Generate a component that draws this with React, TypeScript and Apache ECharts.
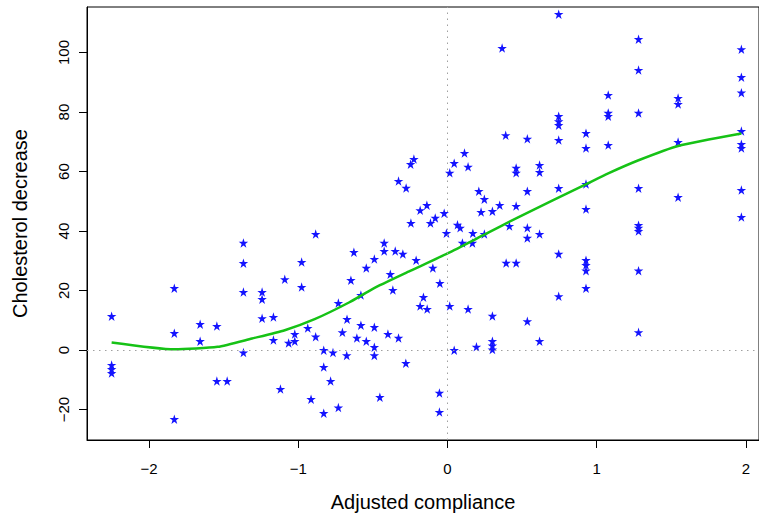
import React, { useEffect, useRef } from "react";
import * as echarts from "echarts";

// Scatter data: [adjusted compliance, cholesterol decrease]
const compliance: number[] = [
  -2.25, -2.25, -2.25, -2.25,
  -1.83, -1.83, -1.83,
  -1.657, -1.657,
  -1.545, -1.545,
  -1.476,
  -1.367, -1.367, -1.367, -1.367,
  -1.242, -1.242, -1.242,
  -1.166, -1.166,
  -1.119, -1.09, -1.064,
  -1.023, -1.023,
  -0.977, -0.977,
  -0.936, -0.914,
  -0.883, -0.883,
  -0.829, -0.829, -0.829,
  -0.783, -0.767,
  -0.731, -0.731,
  -0.704, -0.675, -0.673, -0.647, -0.627, -0.607,
  -0.58, -0.58,
  -0.544, -0.544,
  -0.49, -0.49, -0.49, -0.49,
  -0.453,
  -0.424, -0.424,
  -0.399, -0.383, -0.366, -0.35,
  -0.328, -0.328,
  -0.299, -0.279, -0.277, -0.247, -0.245, -0.225, -0.21,
  -0.183, -0.183,
  -0.161, -0.138, -0.136, -0.114, -0.098, -0.082,
  -0.054, -0.054,
  -0.051, -0.022, -0.007,
  0.015, 0.015,
  0.045, 0.045,
  0.067, 0.085, 0.1, 0.114,
  0.138, 0.138,
  0.167, 0.17, 0.194, 0.21, 0.225,
  0.247, 0.247,
  0.301, 0.301, 0.301, 0.301, 0.301,
  0.35, 0.366, 0.39, 0.393, 0.415,
  0.46, 0.46, 0.46, 0.46,
  0.535, 0.535, 0.535, 0.535, 0.535,
  0.617, 0.617, 0.617, 0.617,
  0.745, 0.745, 0.745, 0.745, 0.745, 0.745, 0.745, 0.745,
  0.928, 0.928, 0.928, 0.928, 0.928, 0.928, 0.928, 0.928,
  1.077, 1.077, 1.077, 1.077,
  1.28, 1.28, 1.28, 1.28, 1.28, 1.28, 1.28, 1.28, 1.28,
  1.545, 1.545, 1.545, 1.545,
  1.969, 1.969, 1.969, 1.969, 1.969, 1.969, 1.969, 1.969,
];

const decrease: number[] = [
  11.4, -5.0, -6.4, -7.7,
  20.8, 5.7, -23.2,
  8.7, 3.0,
  8.1, -10.4,
  -10.4,
  36.0, 29.2, 19.5, -0.8,
  19.5, 17.1, 10.7,
  11.1, 3.4,
  -13.1, 23.8, 2.4,
  5.4, 3.0,
  29.6, 21.2,
  7.4, -16.5,
  39.0, 4.5,
  0.0, -5.7, -21.2,
  -10.4, -0.8,
  15.8, -19.3,
  6.0, -1.8, 10.4, 23.5, 32.9, 4.1,
  18.5, 8.4,
  27.6, 3.0,
  30.6, 7.7, 1.0, -1.8,
  -15.8,
  36.0, 33.3,
  5.4, 25.5, 20.2, 33.3,
  56.8, 4.1,
  32.3, -4.4, 54.5, 62.5, 42.7, 64.2, 30.2,
  47.0, 14.8,
  17.8, 48.7, 13.8, 42.7, 27.6, 44.4,
  -14.4, -20.8,
  22.5, 46.0, 39.3,
  59.6, 14.8,
  62.8, 0.0,
  42.1, 41.1, 36.0, 66.2,
  61.6, 13.8,
  36.0, 39.3, 1.1, 53.4, 46.4,
  50.7, 39.0,
  46.7, 11.5, 3.0, 1.5, 0.2,
  48.7, 101.5, 72.2, 29.3, 41.7,
  61.2, 59.6, 48.4, 29.3,
  71.0, 53.4, 41.1, 37.7, 9.7,
  62.2, 59.8, 39.0, 3.0,
  112.9, 78.6, 76.9, 75.6, 70.6, 54.4, 32.3, 18.1,
  72.9, 67.9, 55.8, 47.4, 30.2, 28.6, 26.7, 20.8,
  85.7, 79.7, 78.6, 68.9,
  104.5, 94.1, 79.7, 54.4, 42.0, 41.1, 40.0, 26.7, 6.0,
  84.7, 82.7, 69.9, 51.4,
  101.1, 91.7, 86.5, 73.6, 69.2, 67.9, 53.8, 44.7,
];

// Smooth fit (green curve)
const fitX: number[] = [-2.25, -1.83, -1.54, -1.31, -1.09, -0.89, -0.66, -0.5, -0.25, 0, 0.25, 0.48, 0.93, 1.077, 1.28, 1.545, 1.969];
const fitY: number[] = [2.6, 0.3, 1.1, 3.9, 6.7, 10.4, 16.0, 20.6, 26.6, 32.5, 38.9, 44.8, 55.8, 59.4, 63.8, 68.6, 72.8];

const xTicks: number[] = [-2, -1, 0, 1, 2];
const yTicks: number[] = [-20, 0, 20, 40, 60, 80, 100];

const STAR =
  "path://M50 0 L61.2 34.5 L97.6 34.5 L68.2 55.9 L79.4 90.5 L50 69.1 L20.6 90.5 L31.8 55.9 L2.4 34.5 L38.8 34.5 Z";

export default function App() {
  const ref = useRef<HTMLDivElement>(null);
  useEffect(() => {
    if (!ref.current) return;
    const chart = echarts.init(ref.current, null, { renderer: "svg" });
    const font = "Liberation Sans, Arial, Helvetica, sans-serif";
    chart.setOption({
      animation: false,
      backgroundColor: "#ffffff",
      grid: {
        left: 87,
        top: 7,
        width: 673,
        height: 433,
        show: true,
        borderColor: "#000",
        borderWidth: 1,
        backgroundColor: "transparent",
      },
      xAxis: {
        type: "value",
        min: -2.415,
        max: 2.087,
        name: "Adjusted compliance",
        nameLocation: "middle",
        nameGap: 52,
        nameTextStyle: { fontSize: 20, color: "#000", fontFamily: font },
        axisLine: { show: true, onZero: false, lineStyle: { color: "#000", width: 1 } },
        axisTick: { show: true, inside: false, length: 8, customValues: xTicks, lineStyle: { color: "#000" } },
        axisLabel: {
          customValues: xTicks,
          margin: 21,
          fontSize: 15,
          color: "#000",
          fontFamily: font,
          formatter: (v: number) => (v < 0 ? "\u2212" + Math.abs(v) : String(v)),
        },
        splitLine: { show: false },
      },
      yAxis: {
        type: "value",
        min: -30.2,
        max: 115.3,
        name: "Cholesterol decrease",
        nameLocation: "middle",
        nameGap: 57,
        nameRotate: 90,
        nameTextStyle: { fontSize: 20, color: "#000", fontFamily: font },
        axisLine: { show: true, onZero: false, lineStyle: { color: "#000", width: 1 } },
        axisTick: { show: true, inside: false, length: 8, customValues: yTicks, lineStyle: { color: "#000" } },
        axisLabel: {
          customValues: yTicks,
          rotate: 90,
          margin: 16,
          fontSize: 15,
          color: "#000",
          fontFamily: font,
          formatter: (v: number) => (v < 0 ? "\u2212" + Math.abs(v) : String(v)),
        },
        splitLine: { show: false },
      },
      series: [
        {
          type: "scatter",
          data: compliance.map((x, i) => [x, decrease[i]]),
          symbol: STAR,
          symbolSize: 9.5,
          itemStyle: { color: "#1414ff", opacity: 1 },
          z: 3,
          markLine: {
            silent: true,
            symbol: "none",
            label: { show: false },
            lineStyle: { color: "#a0a0a0", type: [1.5, 4.5], width: 1 },
            data: [{ yAxis: 0 }, { xAxis: 0 }],
          },
        },
        {
          type: "line",
          data: fitX.map((x, i) => [x, fitY[i]]),
          showSymbol: false,
          symbol: "none",
          smooth: 0.2,
          lineStyle: { color: "#16c216", width: 2.5 },
          z: 4,
        },
      ],
    });
    return () => chart.dispose();
  }, []);
  return (
    <div
      ref={ref}
      style={{ position: "fixed", left: 0, top: 0, width: 759, height: 520, background: "#fff" }}
    />
  );
}
